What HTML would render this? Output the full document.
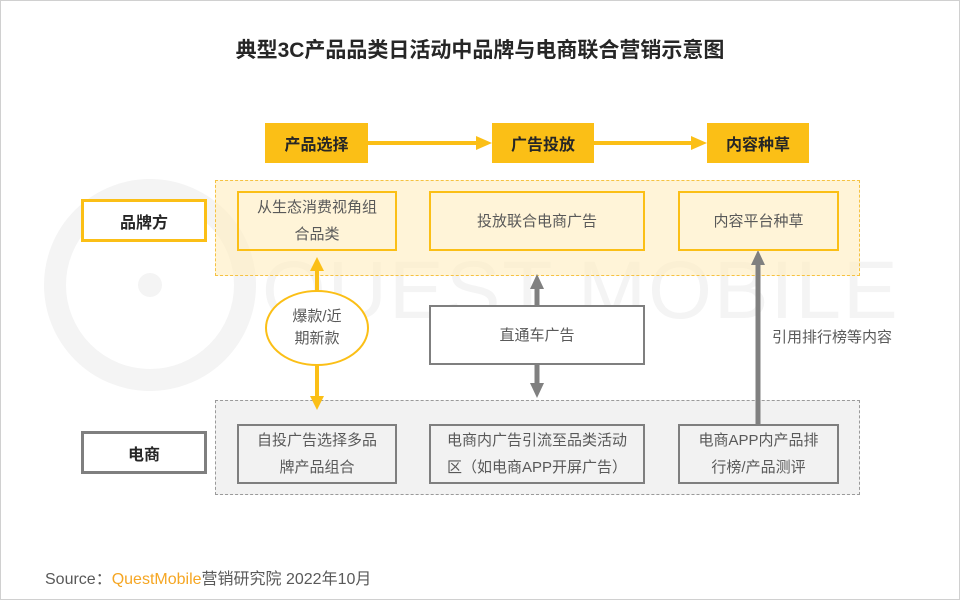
<!DOCTYPE html>
<html><head><meta charset="utf-8"><style>
body{margin:0;width:960px;height:600px;overflow:hidden;background:#fff;font-family:"Liberation Sans","Noto Sans CJK SC",sans-serif;}
.pg{position:absolute;left:0;top:0;width:958px;height:598px;border:1px solid #d0d0d0;}
.a{position:absolute;box-sizing:border-box;display:flex;align-items:center;justify-content:center;text-align:center;}
.t{font-size:15px;color:#595959;line-height:27px;}
</style></head><body>
<div class="pg"></div>
<svg style="position:absolute;left:0;top:0" width="960" height="600">
<circle cx="150" cy="285" r="95" fill="none" stroke="#f4f4f4" stroke-width="22"/>
<circle cx="150" cy="285" r="12" fill="#f4f4f4"/>
</svg>
<div style="position:absolute;left:262px;top:244px;font-size:82px;color:#f4f4f4;letter-spacing:2px;white-space:nowrap;font-family:'Liberation Sans',sans-serif">QUEST MOBILE</div>
<div class="a" style="left:0;top:32px;width:960px;height:34px;font-size:21px;font-weight:bold;color:#262626">典型3C产品品类日活动中品牌与电商联合营销示意图</div>

<div class="a" style="left:215px;top:180px;width:645px;height:96px;background:rgba(255,236,190,0.6);border:1px dashed #f5c242"></div>
<div class="a" style="left:215px;top:400px;width:645px;height:95px;background:rgba(236,236,236,0.7);border:1px dashed #9a9a9a"></div>

<svg style="position:absolute;left:0;top:0" width="960" height="600">
<g fill="#fbbf16" stroke="#fbbf16">
<line x1="368" y1="143" x2="478" y2="143" stroke-width="4"/><polygon points="492,143 476,136 476,150" stroke="none"/>
<line x1="594" y1="143" x2="693" y2="143" stroke-width="4"/><polygon points="707,143 691,136 691,150" stroke="none"/>
<line x1="317" y1="270" x2="317" y2="398" stroke-width="4"/>
<polygon points="317,257 310,271 324,271" stroke="none"/><polygon points="317,410 310,396 324,396" stroke="none"/>
</g>
<g fill="#808080" stroke="#808080">
<line x1="537" y1="288" x2="537" y2="305" stroke-width="5"/><polygon points="537,274 530,289 544,289" stroke="none"/>
<line x1="537" y1="364" x2="537" y2="384" stroke-width="5"/><polygon points="537,398 530,383 544,383" stroke="none"/>
<line x1="758" y1="264" x2="758" y2="424" stroke-width="5"/><polygon points="758,250 751,265 765,265" stroke="none"/>
</g>
<ellipse cx="317" cy="328" rx="51" ry="37" fill="#fff" stroke="#fbbf16" stroke-width="2"/>
</svg>

<div class="a" style="left:265px;top:123px;width:103px;height:40px;background:#fbbf16;font-size:16px;font-weight:bold;color:#262626">产品选择</div>
<div class="a" style="left:492px;top:123px;width:102px;height:40px;background:#fbbf16;font-size:16px;font-weight:bold;color:#262626">广告投放</div>
<div class="a" style="left:707px;top:123px;width:102px;height:40px;background:#fbbf16;font-size:16px;font-weight:bold;color:#262626">内容种草</div>

<div class="a" style="left:81px;top:199px;width:126px;height:43px;background:#fff;border:3px solid #fbbf16;font-size:16px;font-weight:bold;color:#262626">品牌方</div>
<div class="a" style="left:81px;top:431px;width:126px;height:43px;background:#fff;border:3px solid #7f7f7f;font-size:16px;font-weight:bold;color:#262626">电商</div>

<div class="a t" style="left:237px;top:191px;width:160px;height:60px;border:2px solid #fbbf16">从生态消费视角组<br>合品类</div>
<div class="a t" style="left:429px;top:191px;width:216px;height:60px;border:2px solid #fbbf16">投放联合电商广告</div>
<div class="a t" style="left:678px;top:191px;width:161px;height:60px;border:2px solid #fbbf16">内容平台种草</div>

<div class="a t" style="left:266px;top:300px;width:102px;height:56px;line-height:22px">爆款/近<br>期新款</div>
<div class="a t" style="left:429px;top:305px;width:216px;height:60px;background:#fff;border:2px solid #7f7f7f">直通车广告</div>
<div class="a t" style="left:762px;top:325px;width:140px;height:24px;font-size:15px">引用排行榜等内容</div>

<div class="a t" style="left:237px;top:424px;width:160px;height:60px;border:2px solid #7f7f7f">自投广告选择多品<br>牌产品组合</div>
<div class="a t" style="left:429px;top:424px;width:216px;height:60px;border:2px solid #7f7f7f">电商内广告引流至品类活动<br>区（如电商APP开屏广告）</div>
<div class="a t" style="left:678px;top:424px;width:161px;height:60px;border:2px solid #7f7f7f">电商APP内产品排<br>行榜/产品测评</div>

<div style="position:absolute;left:45px;top:565px;font-size:16px;color:#595959;white-space:nowrap">Source：<span style="color:#f5a623">QuestMobile</span>营销研究院 2022年10月</div>
</body></html>
